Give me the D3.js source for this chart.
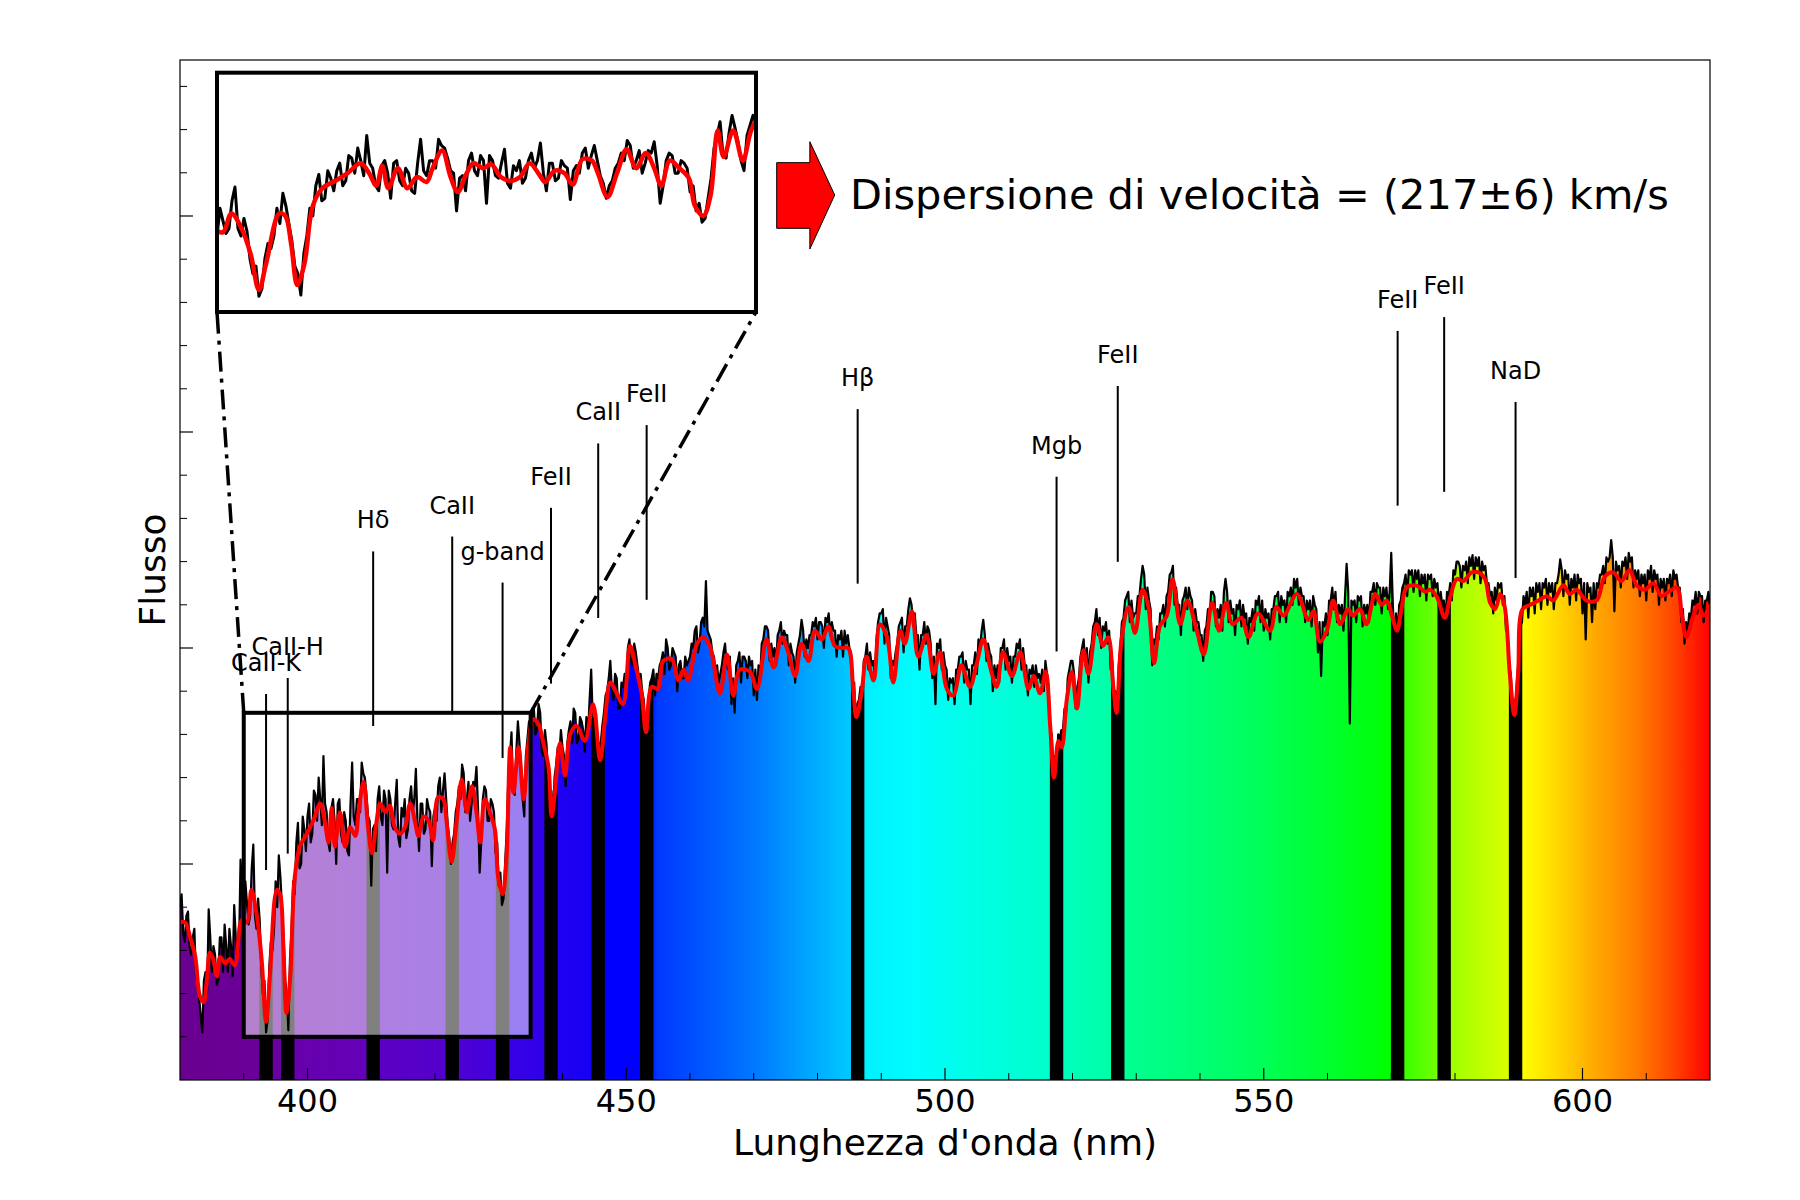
<!DOCTYPE html>
<html><head><meta charset="utf-8">
<script src="https://cdn.jsdelivr.net/npm/d3@7"></script>
<style>
body{margin:0;background:#fff}
svg{display:block}
text{font-family:"DejaVu Sans",sans-serif;fill:#000}
</style>
</head><body>
<svg id="c" width="1800" height="1200"></svg>
<script>
// ---------------- DATA ----------------
// observed spectrum (black), sampled every 0.5 nm from 380 nm
const blackStart = 380, blackStep = 0.5;
const blackFlux = [
0.80,0.68,0.76,0.62,0.66,0.48,0.38,0.22,0.50,0.79,
0.50,0.58,0.46,0.66,0.72,0.50,0.62,0.81,0.58,1.02,
0.70,0.82,0.76,1.09,0.70,0.74,0.40,0.22,0.52,0.60,
0.92,1.04,0.80,0.46,0.23,0.70,0.86,1.19,1.00,1.16,
1.22,1.10,1.34,1.20,1.30,1.50,1.24,1.06,1.30,1.00,
1.30,1.10,1.20,1.04,1.47,1.18,1.30,1.47,1.40,1.22,
0.90,1.18,1.30,1.22,1.34,0.96,1.30,1.16,1.39,1.08,
1.22,1.12,1.30,1.24,1.44,1.06,1.28,1.16,1.26,0.99,
1.26,1.36,1.24,1.42,1.18,1.00,1.14,1.28,1.30,1.42,
1.30,1.20,1.38,1.45,0.96,1.30,1.34,1.20,1.28,1.05,
0.90,0.81,1.00,1.40,1.61,1.32,1.66,1.45,1.22,1.58,
1.58,1.72,1.62,1.70,1.50,1.55,1.28,1.20,1.46,1.50,
1.54,1.36,1.62,1.56,1.70,1.58,1.66,1.52,1.60,1.90,
1.66,1.48,1.56,1.70,1.80,1.94,1.76,1.86,1.72,1.82,
1.80,2.04,1.92,1.98,1.86,1.80,1.62,1.76,1.86,1.78,
1.86,1.94,1.88,2.00,1.92,1.98,1.80,1.94,1.86,1.92,
1.96,2.00,2.10,2.02,2.14,2.31,2.06,1.98,1.90,1.84,
1.92,2.02,1.90,1.74,1.70,1.94,1.84,1.96,1.86,1.92,
1.78,1.76,1.86,2.04,2.10,1.94,1.96,1.92,2.08,2.02,
2.06,1.92,1.98,1.84,2.02,2.13,1.96,2.00,2.06,2.10,
2.04,2.12,2.00,2.12,2.06,2.08,1.96,2.04,1.96,2.02,
2.00,1.80,1.66,1.76,1.76,1.96,1.90,1.92,1.86,2.12,
2.16,2.02,2.10,1.86,1.92,2.02,2.12,1.98,2.10,2.23,
2.10,2.06,1.90,2.06,2.02,2.08,1.86,1.74,2.00,1.90,
1.92,1.76,1.84,1.74,1.90,1.96,1.84,1.90,1.74,1.92,
1.88,2.00,2.13,1.94,1.98,1.80,1.86,1.84,2.00,1.90,
1.94,1.84,1.96,2.00,1.90,1.92,1.78,1.88,1.82,1.86,
1.84,1.80,1.88,1.62,1.44,1.40,1.58,1.62,1.70,1.90,
1.94,1.72,1.86,2.00,1.92,1.84,2.02,2.12,2.06,2.00,
2.08,2.02,1.90,1.76,1.66,2.00,2.14,2.24,2.12,2.14,
2.16,2.24,2.38,2.18,2.22,1.92,2.02,2.04,2.16,2.10,
2.26,2.35,2.20,2.20,2.06,2.24,2.18,2.24,2.08,2.12,
2.06,1.94,2.10,2.14,2.26,2.10,2.14,2.08,2.32,2.12,
2.16,2.06,2.18,2.10,2.14,2.02,2.12,2.08,2.20,2.12,
2.08,2.14,2.04,2.18,2.24,2.12,2.20,2.12,2.24,2.20,
2.28,2.20,2.24,2.12,2.18,2.10,2.20,1.98,1.87,2.10,
2.06,2.22,2.18,2.12,2.16,2.08,2.39,1.65,2.20,2.12,
2.22,2.10,2.16,2.12,2.26,2.20,2.28,2.16,2.24,2.18,
2.44,2.02,2.06,2.22,2.30,2.24,2.34,2.26,2.32,2.24,
2.30,2.22,2.32,2.24,2.28,2.18,2.20,2.12,2.24,2.22,
2.34,2.40,2.28,2.36,2.30,2.38,2.32,2.38,2.30,2.36,
2.30,2.24,2.16,2.22,2.28,2.20,2.08,1.92,1.74,1.74,
1.96,2.12,2.20,2.14,2.24,2.16,2.26,2.18,2.28,2.20,
2.26,2.18,2.30,2.41,2.24,2.32,2.20,2.28,2.22,2.30,
2.16,2.04,2.26,2.12,2.18,2.28,2.34,2.30,2.40,2.50,
2.17,2.36,2.28,2.38,2.32,2.40,2.28,2.32,2.24,2.30,
2.22,2.32,2.26,2.32,2.20,2.28,2.22,2.30,2.24,2.32,
2.28,2.12,2.02,2.08,2.14,2.20,2.16,2.24,2.12,2.22,
2.18];
// observed spectrum (black), in-between samples from 380.25 nm every 0.5 nm
const blackMidStart = 380.25;
const blackFluxMid = [
0.86,0.64,0.78,0.58,0.70,0.44,0.30,0.46,0.40,0.66,
0.62,0.44,0.66,0.50,0.62,0.70,0.48,0.66,0.60,0.86,
0.92,0.72,0.98,0.76,0.84,0.52,0.46,0.28,0.64,0.70,
0.80,0.94,0.66,0.40,0.56,0.92,1.10,0.98,1.22,1.06,
1.28,1.14,1.32,1.40,1.18,1.28,1.10,1.26,1.20,1.28,
1.14,1.24,1.06,1.28,1.22,1.30,1.24,1.42,1.32,1.20,
1.16,1.06,1.36,1.18,1.30,1.34,1.18,1.28,1.12,1.26,
1.30,1.16,1.36,1.30,1.20,1.28,1.14,1.30,1.24,1.22,
1.20,1.40,1.34,1.30,1.12,1.10,1.24,1.36,1.46,1.24,
1.38,1.28,1.36,1.26,1.10,1.36,1.20,1.30,1.24,1.10,
0.96,0.84,1.16,1.50,1.34,1.52,1.56,1.30,1.50,1.66,
1.72,1.60,1.74,1.52,1.62,1.40,1.34,1.40,1.54,1.62,
1.50,1.56,1.66,1.72,1.56,1.68,1.62,1.68,1.76,1.66,
1.70,1.56,1.64,1.78,1.86,1.80,1.88,1.72,1.84,1.88,
2.00,1.94,2.02,1.92,1.88,1.76,1.70,1.84,1.90,1.88,
1.92,1.98,2.04,1.90,2.00,1.96,1.92,1.86,1.96,1.94,
2.02,2.08,1.98,2.12,2.10,2.08,2.04,1.96,1.92,1.88,
1.98,1.92,1.96,1.86,1.92,1.98,1.96,1.94,1.96,1.94,
1.90,1.92,2.02,2.10,2.08,2.02,2.00,2.06,2.12,2.08,
2.06,2.02,1.96,1.98,2.06,2.08,2.04,2.06,2.12,2.14,
2.12,2.10,2.14,2.16,2.12,2.08,2.06,2.08,2.08,2.06,
1.98,1.84,1.74,1.82,1.94,2.02,1.98,1.94,2.04,2.16,
2.18,2.14,2.06,1.94,1.98,2.10,2.14,2.10,2.18,2.20,
2.16,2.06,2.06,2.12,2.10,2.02,1.96,2.02,2.04,1.98,
1.90,1.86,1.86,1.90,1.96,1.98,1.94,1.90,1.92,1.98,
2.04,2.08,2.06,2.02,1.96,1.92,1.92,2.00,2.04,2.00,
1.96,1.96,2.02,2.04,2.00,1.92,1.90,1.92,1.92,1.88,
1.90,1.94,1.82,1.60,1.50,1.60,1.62,1.72,1.86,1.94,
1.88,1.82,1.96,2.04,2.00,1.98,2.10,2.18,2.14,2.10,
2.12,2.08,1.94,1.80,1.92,2.12,2.22,2.26,2.22,2.16,
2.24,2.32,2.34,2.28,2.18,2.04,2.10,2.16,2.20,2.24,
2.34,2.38,2.28,2.20,2.22,2.28,2.28,2.22,2.18,2.12,
2.06,2.08,2.18,2.26,2.24,2.18,2.20,2.26,2.26,2.22,
2.18,2.20,2.22,2.20,2.16,2.14,2.18,2.22,2.24,2.22,
2.18,2.16,2.18,2.24,2.26,2.24,2.22,2.26,2.28,2.32,
2.32,2.28,2.24,2.22,2.22,2.24,2.18,2.12,2.12,2.16,
2.22,2.28,2.26,2.20,2.20,2.24,2.26,2.22,2.22,2.24,
2.24,2.20,2.20,2.26,2.30,2.30,2.28,2.28,2.28,2.26,
2.20,2.16,2.20,2.28,2.34,2.36,2.36,2.36,2.36,2.34,
2.34,2.34,2.34,2.32,2.30,2.26,2.22,2.26,2.30,2.36,
2.40,2.38,2.38,2.40,2.42,2.43,2.42,2.42,2.40,2.38,
2.30,2.26,2.28,2.30,2.30,2.24,2.08,1.88,1.76,1.86,
2.10,2.24,2.26,2.28,2.28,2.30,2.30,2.30,2.32,2.30,
2.30,2.30,2.34,2.36,2.36,2.34,2.32,2.34,2.34,2.32,
2.30,2.30,2.28,2.30,2.30,2.34,2.38,2.42,2.42,2.42,
2.40,2.38,2.40,2.42,2.44,2.42,2.36,2.36,2.34,2.34,
2.36,2.38,2.36,2.34,2.32,2.32,2.32,2.34,2.36,2.34,
2.28,2.18,2.12,2.16,2.22,2.26,2.26,2.24,2.22,2.26];

// best-fit template (red): [wavelength nm, flux]
const fitCurve = [[380.0,0.73],[380.8,0.73],[381.6,0.66],[382.4,0.57],[383.1,0.39],[383.7,0.36],[384.2,0.46],[384.7,0.59],[385.2,0.56],[385.8,0.48],[386.3,0.57],[387.1,0.54],[387.8,0.56],[388.6,0.53],[389.7,0.74],[390.5,0.73],[391.2,0.88],[392.0,0.77],[392.8,0.56],[393.5,0.27],[394.1,0.48],[395.2,0.88],[395.7,0.86],[396.2,0.63],[396.7,0.31],[397.3,0.48],[398.0,0.94],[398.8,1.08],[399.9,1.14],[400.9,1.20],[402.0,1.28],[402.7,1.20],[403.3,1.10],[403.8,1.26],[404.3,1.08],[405.1,1.24],[405.9,1.08],[406.7,1.17],[407.5,1.13],[408.0,1.24],[408.8,1.38],[409.5,1.17],[410.1,1.05],[410.8,1.19],[411.4,1.28],[412.2,1.24],[412.9,1.27],[413.7,1.17],[414.5,1.14],[415.3,1.17],[416.1,1.28],[416.9,1.19],[417.4,1.13],[418.2,1.22],[419.0,1.20],[419.7,1.11],[420.5,1.31],[421.3,1.30],[421.8,1.20],[422.6,1.01],[423.4,1.20],[424.2,1.39],[425.0,1.24],[425.8,1.36],[426.5,1.24],[427.1,1.10],[427.8,1.30],[428.6,1.24],[429.4,1.16],[429.9,0.94],[430.6,0.86],[431.2,1.02],[431.8,1.54],[432.3,1.33],[433.1,1.54],[433.9,1.30],[434.6,1.54],[435.4,1.67],[436.2,1.65],[437.0,1.56],[437.8,1.45],[438.3,1.22],[438.8,1.33],[439.6,1.56],[440.4,1.41],[441.2,1.60],[442.2,1.64],[443.5,1.57],[444.8,1.74],[445.9,1.48],[446.7,1.68],[447.5,1.84],[448.5,1.79],[449.5,1.74],[450.6,2.01],[451.6,1.90],[452.4,1.79],[453.1,1.61],[454.0,1.82],[455.0,1.81],[455.8,1.94],[457.1,1.95],[458.2,1.85],[459.0,1.90],[459.7,1.85],[461.1,2.02],[462.1,2.05],[463.1,2.01],[464.7,1.79],[465.8,1.97],[466.8,1.78],[467.8,1.90],[469.4,1.89],[470.5,1.81],[472.0,2.04],[473.1,1.91],[474.4,2.05],[475.4,1.98],[476.5,1.87],[477.5,2.02],[478.6,1.94],[479.6,2.08],[480.7,2.04],[481.7,2.10],[482.7,2.01],[483.8,2.00],[484.8,2.00],[485.6,1.81],[486.1,1.68],[486.9,1.79],[487.7,1.96],[488.8,1.85],[489.8,2.11],[490.9,2.05],[491.9,1.84],[493.0,2.08],[493.7,2.02],[494.8,2.17],[495.8,1.96],[497.1,2.06],[498.2,1.88],[499.2,1.98],[500.3,1.81],[501.3,1.78],[502.6,1.92],[503.9,1.82],[505.0,1.93],[506.0,2.04],[507.1,1.91],[508.1,1.82],[509.1,1.98],[510.5,1.87],[511.8,1.98],[513.1,1.81],[513.9,1.87],[514.9,1.79],[515.8,1.89],[516.5,1.64],[517.1,1.40],[517.8,1.57],[518.3,1.54],[519.1,1.76],[519.9,1.89],[520.7,1.72],[521.7,1.99],[522.5,1.88],[523.8,2.11],[524.8,2.01],[525.6,2.05],[526.4,1.82],[526.9,1.70],[527.7,2.04],[528.8,2.19],[529.8,2.07],[531.0,2.27],[531.9,2.19],[532.8,1.93],[533.7,2.10],[534.8,2.15],[535.7,2.32],[536.9,2.11],[538.0,2.22],[539.5,2.08],[540.6,1.97],[541.9,2.21],[543.0,2.08],[544.1,2.21],[545.1,2.11],[546.5,2.14],[547.6,2.05],[549.1,2.16],[551.0,2.08],[552.0,2.19],[553.1,2.15],[555.2,2.25],[557.0,2.13],[557.8,2.17],[558.8,2.03],[559.9,2.08],[560.9,2.22],[562.0,2.11],[563.2,2.18],[564.0,2.15],[565.1,2.18],[566.1,2.11],[567.5,2.25],[568.5,2.20],[569.3,2.22],[570.1,2.15],[570.9,2.08],[571.6,2.18],[572.4,2.28],[573.7,2.29],[574.5,2.28],[575.3,2.26],[576.1,2.27],[577.1,2.24],[578.4,2.14],[579.2,2.23],[580.3,2.32],[581.3,2.31],[582.6,2.35],[583.7,2.35],[584.7,2.32],[585.5,2.21],[586.3,2.18],[587.1,2.25],[587.8,2.19],[588.6,1.88],[589.3,1.69],[589.9,1.88],[590.6,2.18],[591.8,2.20],[593.1,2.22],[594.4,2.24],[595.4,2.22],[597.0,2.29],[598.0,2.25],[599.1,2.27],[600.6,2.22],[602.2,2.22],[603.5,2.33],[604.8,2.35],[606.1,2.31],[607.4,2.36],[608.5,2.29],[609.8,2.27],[611.1,2.30],[612.4,2.24],[613.5,2.26],[614.8,2.28],[615.6,2.15],[616.3,2.05],[617.4,2.15],[618.2,2.20],[619.0,2.15],[620.0,2.20]];

// absorption lines
const lineNames  = ["CaII-K","CaII-H","Hδ","CaII","g-band","FeII","CaII","FeII","Hβ","Mgb","FeII","FeII","FeII","NaD"];
const lineWave   = [393.5,396.9,410.3,422.7,430.6,438.2,445.6,453.2,486.3,517.5,527.1,571.0,578.3,589.5];
const lineTop    = [1.787,1.861,2.447,2.516,2.303,2.649,2.947,3.032,3.106,2.793,3.213,3.468,3.532,3.139];
const lineBottom = [0.972,1.048,1.639,1.702,1.491,1.835,2.139,2.223,2.298,1.984,2.399,2.659,2.723,2.324];
const lineBandWidth = 2.1; // nm

// axis ticks
const xTicks = [400,450,500,550,600];
const xMinorTicks = [390,410,420,430,440,460,470,480,490,510,520,530,540,560,570,580,590,610];

// zoom region
const zoomWave = [390,435];
const zoomFlux = [0.2,1.7];
const insetFlux = [0.095,2.0];

// visible-spectrum colour stops
const colorWave = [380,392,398,409,411,421,424,429,432,437,439,444,447,453,455,470,485,487.5,495,505,516,519,526,529,545,560,570,572,577,579.5,588,590.5,596,602,608,614,620];
const colorHex  = ["#6a0090","#6a0098","#6800ac","#6400b8","#5c00c2","#5400cc","#4c00d4","#4400dc","#3800e4","#3000ea","#2000f0","#1800f4","#0000ff","#0000ff","#0038ff","#0078ff","#00c8ff","#00f0ff","#00fcff","#00ffe4","#00ffcc","#00ffbc","#00ffa8","#00ff90","#00ff68","#00ff30","#00ff00","#38ff00","#70ff00","#a0ff00","#d8ff00","#ffff00","#ffd800","#ffa800","#ff8000","#ff4800","#ff0000"];

const annotationText = "Dispersione di velocità = (217±6) km/s";
const xLabel = "Lunghezza d'onda (nm)";
const yLabel = "Flusso";

// ---------------- DRAW ----------------
const svg = d3.select("#c");
const W0 = 180, W1 = 1710, H0 = 60, H1 = 1080;
const x = d3.scaleLinear().domain([380,620]).range([W0,W1]);
const y = d3.scaleLinear().domain([0,4.7222]).range([H1,H0]);

const blackData = blackFlux.map((f,i)=>[blackStart + i*blackStep, f])
  .concat(blackFluxMid.map((f,i)=>[blackMidStart + i*blackStep, f]))
  .sort((a,b)=>a[0]-b[0]);

const defs = svg.append("defs");
const grad = defs.append("linearGradient").attr("id","spec")
  .attr("gradientUnits","userSpaceOnUse")
  .attr("x1",x(380)).attr("x2",x(620)).attr("y1",0).attr("y2",0);
colorWave.forEach((w,i)=>grad.append("stop").attr("offset",(w-380)/240).attr("stop-color",colorHex[i]));

const area = d3.area().x(d=>x(d[0])).y0(y(0)).y1(d=>y(d[1]));
defs.append("clipPath").attr("id","under").append("path").attr("d",area(blackData));
defs.append("clipPath").attr("id","plot").append("rect")
  .attr("x",W0).attr("y",H0).attr("width",W1-W0).attr("height",H1-H0);

const g = svg.append("g").attr("clip-path","url(#plot)");

// coloured fill under spectrum
g.append("path").attr("d",area(blackData)).attr("fill","url(#spec)");

// absorption bands
g.append("g").attr("clip-path","url(#under)").selectAll("rect").data(lineWave).join("rect")
  .attr("x",d=>x(d-lineBandWidth/2)).attr("width",d=>x(d+lineBandWidth/2)-x(d-lineBandWidth/2))
  .attr("y",y(4.7222)).attr("height",y(0)-y(4.7222)).attr("fill","#000");

// light overlay on zoom region
g.append("rect")
  .attr("x",x(zoomWave[0])).attr("width",x(zoomWave[1])-x(zoomWave[0]))
  .attr("y",y(zoomFlux[1])).attr("height",y(zoomFlux[0])-y(zoomFlux[1]))
  .attr("fill","#fff").attr("fill-opacity",0.5);

// line markers
lineWave.forEach((w,i)=>{
  g.append("line").attr("x1",x(w)).attr("x2",x(w)).attr("y1",y(lineBottom[i])).attr("y2",y(lineTop[i]))
   .attr("stroke","#000").attr("stroke-width",2);
  svg.append("text").attr("x",x(w)).attr("y",y(lineTop[i])-23).attr("text-anchor","middle")
   .attr("font-size",24).text(lineNames[i]);
});

// spectrum & fit
const lineB = d3.line().x(d=>x(d[0])).y(d=>y(d[1]));
const lineR = d3.line().x(d=>x(d[0])).y(d=>y(d[1])).curve(d3.curveCatmullRom.alpha(0.5));
g.append("path").attr("d",lineB(blackData)).attr("fill","none").attr("stroke","#000")
  .attr("stroke-width",2.2).attr("stroke-linejoin","round");
g.append("path").attr("d",lineR(fitCurve)).attr("fill","none").attr("stroke","#ff0000")
  .attr("stroke-width",4).attr("stroke-linejoin","round");

// zoom box
svg.append("rect")
  .attr("x",x(zoomWave[0])).attr("width",x(zoomWave[1])-x(zoomWave[0]))
  .attr("y",y(zoomFlux[1])).attr("height",y(zoomFlux[0])-y(zoomFlux[1]))
  .attr("fill","none").attr("stroke","#000").attr("stroke-width",4);

// inset
const I = {x0:217, x1:756, y0:72.7, y1:312};
const ix = d3.scaleLinear().domain(zoomWave).range([I.x0,I.x1]);
const iy = d3.scaleLinear().domain(insetFlux).range([I.y1,I.y0]);

// connector lines
[[zoomWave[0],I.x0],[zoomWave[1],I.x1]].forEach(([w,px])=>{
  svg.append("line").attr("x1",x(w)).attr("y1",y(zoomFlux[1])).attr("x2",px).attr("y2",I.y1)
    .attr("stroke","#000").attr("stroke-width",3.5).attr("stroke-dasharray","20,7,4,7");
});

svg.append("rect").attr("x",I.x0).attr("y",I.y0).attr("width",I.x1-I.x0).attr("height",I.y1-I.y0).attr("fill","#fff");
defs.append("clipPath").attr("id","inset").append("rect")
  .attr("x",I.x0).attr("y",I.y0).attr("width",I.x1-I.x0).attr("height",I.y1-I.y0);
const gi = svg.append("g").attr("clip-path","url(#inset)");
const iB = d3.line().x(d=>ix(d[0])).y(d=>iy(d[1]));
const iR = d3.line().x(d=>ix(d[0])).y(d=>iy(d[1])).curve(d3.curveCatmullRom.alpha(0.5));
gi.append("path").attr("d",iB(blackData.filter(d=>d[0]>=389&&d[0]<=436))).attr("fill","none")
  .attr("stroke","#000").attr("stroke-width",3).attr("stroke-linejoin","round");
gi.append("path").attr("d",iR(fitCurve.filter(d=>d[0]>=388&&d[0]<=437))).attr("fill","none")
  .attr("stroke","#ff0000").attr("stroke-width",4.5).attr("stroke-linejoin","round");
svg.append("rect").attr("x",I.x0).attr("y",I.y0).attr("width",I.x1-I.x0).attr("height",I.y1-I.y0)
  .attr("fill","none").attr("stroke","#000").attr("stroke-width",4);

// arrow + annotation
const A = {tail:473.6, neck:478.8, tip:482.7, bTop:4.247, bBot:3.943, hTop:4.344, hBot:3.847, mid:4.097};
const arrowPts = [[A.tail,A.bTop],[A.neck,A.bTop],[A.neck,A.hTop],[A.tip,A.mid],[A.neck,A.hBot],[A.neck,A.bBot],[A.tail,A.bBot]];
svg.append("polygon").attr("points",arrowPts.map(p=>[x(p[0]),y(p[1])].join(",")).join(" "))
  .attr("fill","#ff0000").attr("stroke","#000").attr("stroke-width",1);
svg.append("text").attr("x",x(485.1)).attr("y",y(4.032)).attr("font-size",41.5).text(annotationText);

// axes frame
svg.append("rect").attr("x",W0).attr("y",H0).attr("width",W1-W0).attr("height",H1-H0)
  .attr("fill","none").attr("stroke","#000").attr("stroke-width",1.2);

// x ticks (inward)
const ax = svg.append("g");
xTicks.forEach(t=>{
  ax.append("line").attr("x1",x(t)).attr("x2",x(t)).attr("y1",H1).attr("y2",H1-12).attr("stroke","#000").attr("stroke-width",1.2);
  ax.append("text").attr("x",x(t)).attr("y",1112).attr("text-anchor","middle").attr("font-size",32).text(t);
});
xMinorTicks.forEach(t=>{
  ax.append("line").attr("x1",x(t)).attr("x2",x(t)).attr("y1",H1).attr("y2",H1-7).attr("stroke","#000").attr("stroke-width",1);
});
// y ticks (inward, no labels)
d3.range(1,24).forEach(k=>{
  const v = k*0.2, major = (k%5===0);
  ax.append("line").attr("x1",W0).attr("x2",W0+(major?13:7)).attr("y1",y(v)).attr("y2",y(v))
    .attr("stroke","#000").attr("stroke-width",major?1.2:1);
});

svg.append("text").attr("x",(W0+W1)/2).attr("y",1155).attr("text-anchor","middle").attr("font-size",36).text(xLabel);
svg.append("text").attr("transform",`translate(165,${(H0+H1)/2}) rotate(-90)`).attr("text-anchor","middle")
  .attr("font-size",36).text(yLabel);
</script>
</body></html>
